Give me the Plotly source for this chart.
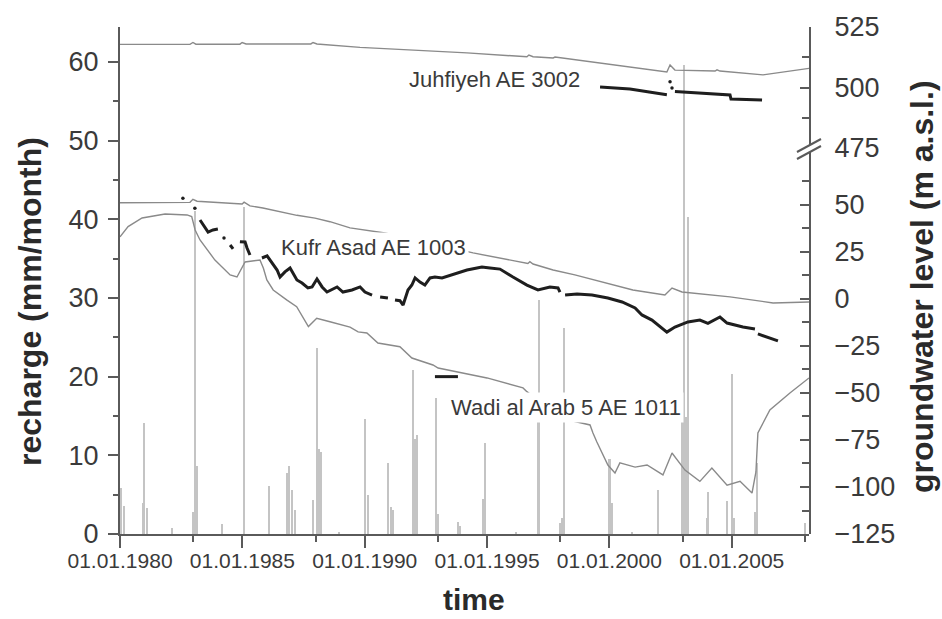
import plotly.graph_objects as go
import pandas as pd

# ---------------- data (times as decimal years) ----------------
recharge_t = [1980.03, 1980.16, 1980.94, 1980.98, 1981.10, 1982.13, 1982.98, 1983.09, 1983.17,
              1984.17, 1985.09, 1986.09, 1986.82, 1986.91, 1987.03, 1987.15, 1987.91, 1988.05,
              1988.13, 1988.21, 1988.95, 1990.01, 1990.13, 1990.95, 1991.07, 1991.16, 1991.97,
              1992.06, 1992.14, 1992.91, 1993.00, 1993.81, 1993.89, 1994.83, 1994.92, 1996.18,
              1997.08, 1997.14, 1997.98, 1998.06, 1998.14, 2000.02, 2000.11, 2000.92, 2001.99,
              2002.97, 2003.06, 2003.13, 2003.21, 2003.99, 2004.05, 2004.81, 2005.03, 2005.11,
              2005.95, 2006.05, 2007.99]
recharge_v = [5.8, 3.5, 3.9, 14.1, 3.3, 0.8, 2.8, 41.0, 8.6,
              1.3, 41.6, 6.1, 7.7, 8.6, 5.6, 3.0, 4.3, 23.7,
              10.8, 10.4, 0.3, 14.6, 4.9, 9.0, 3.4, 3.0, 20.8,
              12.1, 12.6, 17.3, 2.5, 1.5, 1.0, 4.5, 11.6, 0.2,
              14.5, 29.7, 1.4, 2.0, 26.2, 9.5, 3.9, 0.3, 5.6,
              14.9, 59.6, 14.9, 40.3, 2.0, 5.4, 4.2, 20.4, 2.0,
              2.8, 9.0, 1.4]

# Juhfiyeh AE 3002 (upper right axis)
juh_sim_t = [1980.00, 1982.86, 1982.98, 1983.10, 1984.90, 1984.99, 1985.15, 1987.80, 1987.89,
             1988.05, 1989.81, 1991.73, 1994.18, 1996.63, 1996.71, 1996.88, 1997.70, 1997.78,
             2000.96, 2002.35, 2002.48, 2002.68, 2004.32, 2004.40, 2004.52, 2006.28, 2008.16]
juh_sim_v = [517.8, 517.8, 518.6, 517.9, 517.9, 518.6, 518.0, 518.0, 518.6,
             518.0, 516.6, 515.6, 514.3, 512.7, 513.4, 512.7, 512.2, 512.6,
             508.1, 506.4, 509.3, 507.2, 506.8, 507.3, 506.8, 505.2, 507.9]
juh_obs_t = [1999.62, 2000.84, 2002.35, None, 2002.68, 2004.93, 2004.97, 2006.24]
juh_obs_v = [500.2, 499.4, 497.0, None, 498.3, 496.9, 495.2, 494.8]
juh_dot_t = [2002.48, 2002.56]
juh_dot_v = [502.4, 499.8]

# Kufr Asad AE 1003 (lower right axis)
kuf_sim_t = [1980.00, 1981.02, 1982.86, 1982.98, 1983.15, 1984.99, 1985.07, 1985.31, 1985.84,
             1987.23, 1987.97, 1988.58, 1989.40, 1990.83, 1994.43, 1996.67, 1996.75, 1996.88,
             1997.70, 1998.59, 2000.96, 2002.27, 2002.56, 2002.97, 2004.93, 2006.69, 2008.16]
kuf_sim_v = [51.2, 51.4, 51.4, 53.0, 52.0, 50.5, 51.5, 49.5, 48.4,
             44.5, 43.0, 41.1, 37.8, 35.1, 24.5, 18.9, 19.8, 18.6,
             15.4, 12.8, 4.8, 2.1, 5.8, 3.7, 1.1, -2.1, -1.6]
kuf_obs_t = [1983.27, 1983.47, 1983.60, 1983.80, 1984.00, None,
             1984.50, 1984.62, None,
             1984.90, 1985.11, 1985.19, 1985.31, None,
             1985.80, 1986.01, 1986.42, 1986.54, 1986.74, 1986.95, 1987.23, 1987.44, 1987.68,
             1987.85, 1988.05, 1988.26, 1988.46, 1988.70, 1988.87, 1989.11, 1989.40, 1989.48,
             1989.81, 1990.01, 1990.30, None,
             1990.63, 1990.95, None,
             1991.24, 1991.44, 1991.57, 1991.65, 1991.77, 1991.93, 1992.06, 1992.26, 1992.46,
             1992.67, 1992.87, 1993.16, 1993.57, 1993.98, 1994.18, 1994.59, 1994.79, 1995.12,
             1995.53, 1996.06, 1996.63, 1997.08, 1997.57, 1997.90, 1997.98, None,
             1998.19, 1998.68, 1999.29, 1999.94, 2000.52, 2001.05, 2001.33, 2001.74, 2002.35,
             2002.68, 2003.21, 2003.70, 2004.03, 2004.52, 2004.81, 2005.46, 2005.95, None,
             2006.07, 2006.89]
kuf_obs_v = [42.0, 37.8, 35.6, 36.7, 37.2, None,
             28.7, 26.6, None,
             30.5, 30.3, 27.1, 23.4, None,
             21.8, 22.9, 15.4, 11.7, 14.4, 16.5, 10.1, 8.5, 5.9,
             6.4, 10.6, 6.4, 3.7, 5.3, 6.4, 3.7, 4.3, 4.8,
             6.4, 3.7, 2.1, None,
             1.1, 0.5, None,
             -0.5, -0.9, -3.2, 0.5, 4.8, 7.4, 11.2, 9.0, 7.4,
             11.2, 11.7, 11.2, 12.8, 14.4, 15.4, 16.5, 17.0, 16.5,
             15.9, 11.7, 7.4, 4.8, 6.4, 5.9, 3.7, None,
             2.1, 2.7, 2.1, 0.5, -1.6, -4.8, -8.5, -11.2, -17.6,
             -14.9, -12.2, -11.2, -13.0, -9.6, -12.8, -14.9, -16.0, None,
             -18.6, -22.3]
kuf_dot_t = [1982.57, 1983.06, 1984.25]
kuf_dot_v = [53.6, 48.2, 32.4]

# Wadi al Arab 5 AE 1011 (lower right axis)
wad_sim_t = [1980.00, 1980.33, 1980.90, 1981.84, 1982.74, 1982.93, 1983.07, 1983.27, 1983.88,
             1984.50, 1984.78, 1985.11, 1985.72, 1985.86, 1986.00, 1986.26, 1986.81, 1987.22,
             1987.70, 1988.04, 1988.58, 1989.40, 1989.73, 1990.09, 1990.54, 1991.44, 1991.93,
             1992.79, 1993.00, 1993.81, 1995.00, 1996.47, 1996.63, 1997.98, 1999.21, 1999.33,
             1999.49, 1999.94, 2000.23, 2000.43, 2001.05, 2001.54, 2001.99, 2002.19, 2002.56,
             2003.09, 2003.70, 2004.19, 2004.81, 2005.34, 2005.83, 2005.99, 2006.07, 2006.56,
             2007.38, 2008.16]
wad_sim_v = [33.0, 38.5, 43.1, 45.2, 44.7, 43.8, 36.7, 31.4, 20.7,
             12.8, 11.7, 19.7, 20.7, 16.3, 10.1, 4.8, -0.5, -4.1,
             -14.7, -10.3, -12.1, -15.0, -17.5, -18.1, -23.4, -25.4, -31.4,
             -35.1, -36.7, -38.8, -42.0, -47.3, -49.3, -63.3, -67.0, -71.3,
             -76.1, -88.3, -92.6, -87.2, -89.4, -88.3, -92.0, -93.6, -81.9,
             -91.0, -97.0, -89.9, -99.0, -97.0, -103.2, -92.0, -71.3, -59.0,
             -50.0, -42.0]
wad_obs_t = [1992.87, 1993.81]
wad_obs_v = [-41.3, -41.3]

x_major = [1980, 1985, 1990, 1995, 2000, 2005]
x_minor = [1983, 1988, 1993, 1998, 2003, 2008]
left_ticks = [0, 10, 20, 30, 40, 50, 60]
left_minor = [5, 15, 25, 35, 45, 55]
low_ticks = [-125, -100, -75, -50, -25, 0, 25, 50]
low_minor = [-112.5, -87.5, -62.5, -37.5, -12.5, 12.5, 37.5, 62.5]
up_ticks = [475, 500, 525]
up_minor = [487.5, 512.5]


def dec2dt(y):
    if y is None:
        return None
    yr = int(y)
    s = pd.Timestamp(yr, 1, 1)
    e = pd.Timestamp(yr + 1, 1, 1)
    return s + (e - s) * (y - yr)


def dts(lst):
    return [dec2dt(v) for v in lst]


# ---------------- geometry ----------------
W, H = 942, 619
L, R, T, B = 120, 133, 27, 85
PW, PH = W - L - R, H - T - B
BRK_PX = 148
BRK = (534 - BRK_PX) / PH

FONT = "Liberation Sans, Arial, sans-serif"
AX = "#5a5a5a"
TXT = "#3a3a3a"
GRAY = "#8a8a8a"
BAR = "#c4c4c4"
BLK = "#1e1e1e"


def px(xp, yp):
    return (xp - L) / PW, (534 - yp) / PH


fig = go.Figure()
fig.add_trace(go.Bar(x=dts(recharge_t), y=recharge_v, width=25 * 86400000,
                     marker=dict(color=BAR, line=dict(width=0)), yaxis="y", showlegend=False))
fig.add_trace(go.Scatter(x=dts(juh_sim_t), y=juh_sim_v, mode="lines", yaxis="y3",
                         line=dict(color=GRAY, width=1.4), showlegend=False))
fig.add_trace(go.Scatter(x=dts(juh_obs_t), y=juh_obs_v, mode="lines", yaxis="y3",
                         line=dict(color=BLK, width=3), connectgaps=False, showlegend=False))
fig.add_trace(go.Scatter(x=dts(juh_dot_t), y=juh_dot_v, mode="markers", yaxis="y3",
                         marker=dict(color=BLK, size=3.5), showlegend=False))
fig.add_trace(go.Scatter(x=dts(kuf_sim_t), y=kuf_sim_v, mode="lines", yaxis="y2",
                         line=dict(color=GRAY, width=1.4), showlegend=False))
fig.add_trace(go.Scatter(x=dts(kuf_obs_t), y=kuf_obs_v, mode="lines", yaxis="y2",
                         line=dict(color=BLK, width=3), connectgaps=False, showlegend=False))
fig.add_trace(go.Scatter(x=dts(kuf_dot_t), y=kuf_dot_v, mode="markers", yaxis="y2",
                         marker=dict(color=BLK, size=3.5), showlegend=False))
fig.add_trace(go.Scatter(x=dts(wad_sim_t), y=wad_sim_v, mode="lines", yaxis="y2",
                         line=dict(color=GRAY, width=1.4), showlegend=False))
fig.add_trace(go.Scatter(x=dts(wad_obs_t), y=wad_obs_v, mode="lines", yaxis="y2",
                         line=dict(color=BLK, width=3), showlegend=False))

tickfont_y = dict(family=FONT, size=27, color=TXT)
common = dict(showgrid=False, zeroline=False, showline=True, linecolor=AX, linewidth=2,
              tickcolor=AX, tickwidth=2)

fig.update_layout(
    width=W, height=H,
    margin=dict(l=L, r=R, t=T, b=B),
    paper_bgcolor="white", plot_bgcolor="rgba(0,0,0,0)",
    bargap=0,
    showlegend=False,
    xaxis=dict(type="date", range=[dec2dt(1980.0), dec2dt(2008.16)],
               tickmode="array", tickvals=[dec2dt(v) for v in x_major],
               tickformat="%d.%m.%Y", ticks="outside", ticklen=12,
               minor=dict(tickmode="array", tickvals=[dec2dt(v) for v in x_minor],
                          ticks="outside", ticklen=6, tickcolor=AX, tickwidth=2),
               tickfont=dict(family=FONT, size=21, color=TXT), ticklabelstandoff=-5,
               **common),
    yaxis=dict(domain=[0, 1], range=[0, 64.45], tickmode="array", tickvals=left_ticks,
               ticks="outside", ticklen=10,
               minor=dict(tickmode="array", tickvals=left_minor, ticks="outside",
                          ticklen=5, tickcolor=AX, tickwidth=2),
               tickfont=tickfont_y, ticklabelstandoff=4, **common),
    yaxis2=dict(domain=[0, BRK], range=[-125, 80.3], side="right", anchor="x",
                tickmode="array", tickvals=low_ticks, ticks="inside", ticklen=9,
                minor=dict(tickmode="array", tickvals=low_minor, ticks="inside",
                           ticklen=7, tickcolor=AX, tickwidth=2),
                tickfont=tickfont_y, ticklabelstandoff=18, **common),
    yaxis3=dict(domain=[BRK, 1], range=[475, 525], side="right", anchor="x",
                tickmode="array", tickvals=up_ticks, ticks="inside", ticklen=9,
                minor=dict(tickmode="array", tickvals=up_minor, ticks="inside",
                           ticklen=7, tickcolor=AX, tickwidth=2),
                tickfont=tickfont_y, ticklabelstandoff=18, **common),
)

# axis titles
lx, ly = px(30, 302)
rx, ry = px(922, 287)
tx, ty = px(474, 599)
ann = [
    dict(text="<b>recharge (mm/month)</b>", x=lx, y=ly, textangle=-90,
         font=dict(family=FONT, size=32, color="#2a2a2a")),
    dict(text="<b>groundwater level (m a.s.l.)</b>", x=rx, y=ry, textangle=-90,
         font=dict(family=FONT, size=32, color="#2a2a2a")),
    dict(text="<b>time</b>", x=tx, y=ty,
         font=dict(family=FONT, size=30, color="#2a2a2a")),
]
for a in ann:
    a.update(xref="paper", yref="paper", showarrow=False, xanchor="center", yanchor="middle")
    fig.add_annotation(**a)

# series labels (white box hides lines behind, as in the original)
labels = [("Juhfiyeh AE 3002", 406, 80), ("Kufr Asad AE 1003", 278, 247),
          ("Wadi al Arab 5 AE 1011", 448, 407)]
for txt, x0, y0 in labels:
    xp, yp = px(x0, y0)
    fig.add_annotation(text=txt, x=xp, y=yp, xref="paper", yref="paper", showarrow=False,
                       xanchor="left", yanchor="middle", bgcolor="white", borderpad=2,
                       font=dict(family=FONT, size=22, color=TXT))

# axis break marks on the right axis
a1 = px(797, 152); a2 = px(821, 139)
b1 = px(797, 159); b2 = px(821, 146)
fig.add_shape(type="path", xref="paper", yref="paper",
              path=f"M {a1[0]},{a1[1]} L {a2[0]},{a2[1]} L {b2[0]},{b2[1]} L {b1[0]},{b1[1]} Z",
              fillcolor="white", line=dict(width=0), layer="above")
for p1, p2 in [(a1, a2), (b1, b2)]:
    fig.add_shape(type="line", xref="paper", yref="paper", x0=p1[0], y0=p1[1],
                  x1=p2[0], y1=p2[1], line=dict(color=AX, width=2), layer="above")

fig.write_html("out.html")
